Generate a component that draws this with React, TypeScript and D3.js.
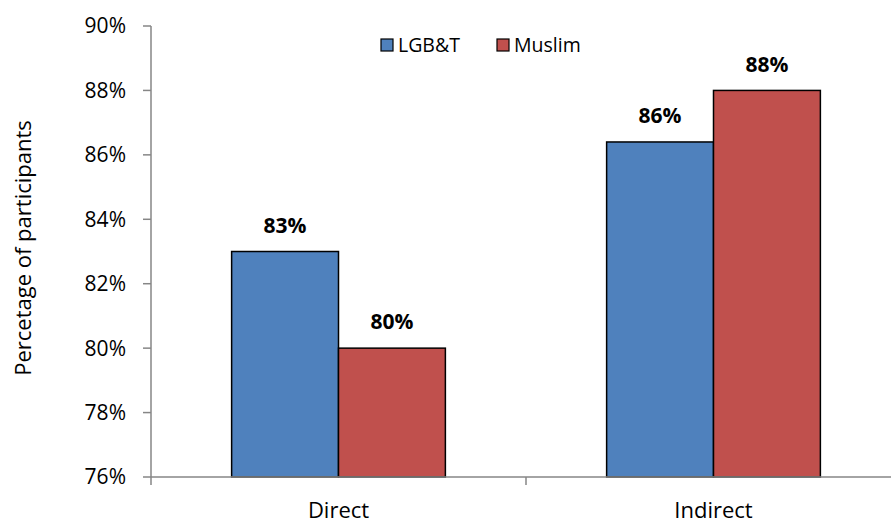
import React from 'react';
import * as d3 from 'd3';

const categories = ['Direct', 'Indirect'];
const seriesNames = ['LGB&T', 'Muslim'];
const lgbtValues = [83.0, 86.4];
const muslimValues = [80.0, 88.0];
const valueLabels = [['83%', '86%'], ['80%', '88%']];
const yTicks = [76, 78, 80, 82, 84, 86, 88, 90];
const colors = ['#4f81bd', '#c0504d'];

const W = 891;
const H = 523;
const margin = { top: 26, right: -10, bottom: 46, left: 151 };
const font = "'Open Sans', 'Noto Sans', sans-serif";

export default function App() {
  const innerW = W - margin.left - margin.right;
  const innerH = H - margin.top - margin.bottom;

  const x0 = d3.scaleBand().domain(categories).range([0, innerW]).paddingInner(0.43).paddingOuter(0.215);
  const x1 = d3.scaleBand().domain(seriesNames).range([0, x0.bandwidth()]);
  const y = d3.scaleLinear().domain([76, 90]).range([innerH, 0]);
  const series = [lgbtValues, muslimValues];

  return (
    <svg width={W} height={H} style={{ display: 'block', position: 'absolute', left: 0, top: 0, background: '#fff' }}>
      <g transform={`translate(${margin.left},${margin.top})`} fontFamily={font}>
        {/* y axis */}
        <line x1={0} x2={0} y1={0} y2={innerH} stroke="#868686" strokeWidth={1.5} />
        {yTicks.map(t => (
          <g key={t} transform={`translate(0,${y(t)})`}>
            <line x1={-8} x2={0} stroke="#868686" strokeWidth={1.5} />
            <text x={-25} dy="0.35em" textAnchor="end" fontSize={21} fill="#000">{t}%</text>
          </g>
        ))}
        {/* bars */}
        {series.map((vals, si) =>
          categories.map((c, ci) => {
            const bx = (x0(c) ?? 0) + (x1(seriesNames[si]) ?? 0);
            const by = y(vals[ci]);
            return (
              <g key={`${si}-${ci}`}>
                <rect x={bx} y={by} width={x1.bandwidth()} height={innerH - by}
                  fill={colors[si]} stroke="#000" strokeWidth={1.5} />
                <text x={bx + x1.bandwidth() / 2} y={by - 26} dy="0.35em" textAnchor="middle"
                  fontSize={21} fontWeight="bold" fill="#000">{valueLabels[si][ci]}</text>
              </g>
            );
          })
        )}
        {/* x axis */}
        <line x1={0} x2={innerW} y1={innerH} y2={innerH} stroke="#868686" strokeWidth={1.5} />
        {[0, 1, 2].map(i => (
          <line key={i} x1={i * innerW / 2} x2={i * innerW / 2} y1={innerH} y2={innerH + 8} stroke="#868686" strokeWidth={1.5} />
        ))}
        {categories.map(c => (
          <text key={c} x={(x0(c) ?? 0) + x0.bandwidth() / 2} y={innerH + 41} textAnchor="middle" fontSize={22} fill="#000">{c}</text>
        ))}
        {/* y title */}
        <text transform={`translate(${-120},${222}) rotate(-90)`} textAnchor="middle" fontSize={22} fill="#000">Percetage of participants</text>
        {/* legend */}
        {seriesNames.map((s, i) => {
          const lx = 230 + i * 116;
          return (
            <g key={s} transform={`translate(${lx},13)`}>
              <rect x={0} y={0} width={12} height={12} fill={colors[i]} stroke="#000" strokeWidth={1.2} />
              <text x={17} y={6} dy="0.35em" fontSize={19.5} fill="#000">{s}</text>
            </g>
          );
        })}
      </g>
    </svg>
  );
}
